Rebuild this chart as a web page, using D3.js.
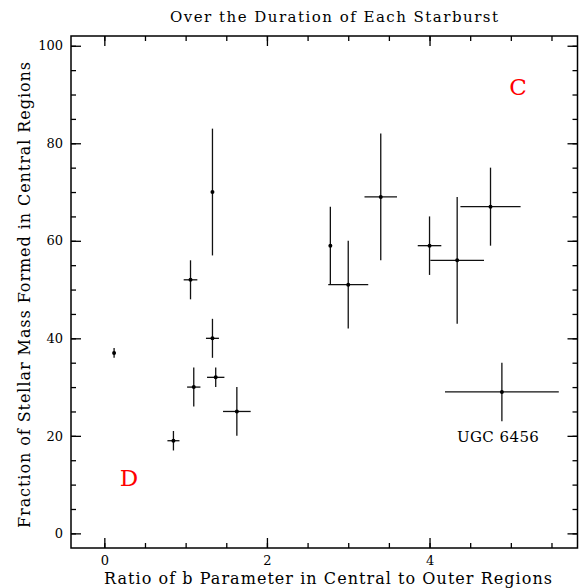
<!DOCTYPE html>
<html>
<head>
<meta charset="utf-8">
<script src="https://cdn.jsdelivr.net/npm/d3@7"></script>
<style>
  body { margin: 0; background: #fff; }
  svg { display: block; }
  text { font-family: "DejaVu Serif", serif; fill: #000; }
</style>
</head>
<body>
<div id="chart"></div>
<script>
// data
const xVals = [0.12, 0.85, 1.06, 1.10, 1.33, 1.37, 1.33, 1.63, 2.78, 3.00, 3.40, 4.00, 4.34, 4.75, 4.89];
const yVals = [37, 19, 52, 30, 40, 32, 70, 25, 59, 51, 69, 59, 56, 67, 29];
const xErr  = [0, 0.074, 0.084, 0.082, 0.08, 0.107, 0, 0.17, 0, 0.246, 0.2, 0.145, 0.33, 0.37, 0.70];
const yErr  = [1, 2, 4, 4, 4, 2, 13, 5, 8, 9, 13, 6, 13, 8, 6];

const xMajor = [0, 2, 4];
const yMajor = [0, 20, 40, 60, 80, 100];
const xMinor = d3.range(0, 6, 0.5);
const yMinor = d3.range(0, 101, 5);

const title = "Over the Duration of Each Starburst";
const xTitle = "Ratio of b Parameter in Central to Outer Regions";
const yTitle = "Fraction of Stellar Mass Formed in Central Regions";

const width = 585, height = 588;
const mLeft = 71, mRight = 577.5, mTop = 36, mBottom = 548;

const svg = d3.select('#chart').append('svg')
  .attr('width', width)
  .attr('height', height);

const x = d3.scaleLinear().domain([-0.41, 5.82]).range([mLeft, mRight]);
const y = d3.scaleLinear().domain([-3, 102]).range([mBottom, mTop]);

// frame
svg.append('rect')
  .attr('x', mLeft).attr('y', mTop)
  .attr('width', mRight - mLeft).attr('height', mBottom - mTop)
  .attr('fill', 'none').attr('stroke', '#000').attr('stroke-width', 1.5);

// ticks on all four sides, pointing inward
function ticks(axis, values, size, labels) {
  return axis.tickValues(values).tickSizeInner(-size).tickSizeOuter(0)
    .tickFormat(labels ? d3.format('d') : '').tickPadding(8);
}
const axes = [
  [d3.axisBottom(x), xMinor, 5, false, `translate(0,${mBottom})`],
  [d3.axisBottom(x), xMajor, 10, true, `translate(0,${mBottom})`],
  [d3.axisTop(x), xMinor, 5, false, `translate(0,${mTop})`],
  [d3.axisTop(x), xMajor, 10, false, `translate(0,${mTop})`],
  [d3.axisLeft(y), yMinor, 5, false, `translate(${mLeft},0)`],
  [d3.axisLeft(y), yMajor, 10, true, `translate(${mLeft},0)`],
  [d3.axisRight(y), yMinor, 5, false, `translate(${mRight},0)`],
  [d3.axisRight(y), yMajor, 10, false, `translate(${mRight},0)`]
];
axes.forEach(([ax, vals, size, lab, tr]) => {
  const g = svg.append('g').attr('transform', tr).call(ticks(ax, vals, size, lab));
  g.select('.domain').remove();
  g.selectAll('line').attr('stroke', '#000').attr('stroke-width', 1.3);
  g.selectAll('text').style('font-family', '"DejaVu Serif", serif').style('font-size', '13px').attr('fill', '#000');
});

// error bars
const pts = xVals.map((v, i) => ({x: v, y: yVals[i], ex: xErr[i], ey: yErr[i]}));
const bars = svg.append('g').attr('stroke', '#111').attr('stroke-width', 1.3);
bars.selectAll('.ey').data(pts).enter().append('line')
  .attr('x1', d => x(d.x)).attr('x2', d => x(d.x))
  .attr('y1', d => y(d.y - d.ey)).attr('y2', d => y(d.y + d.ey));
bars.selectAll('.ex').data(pts.filter(d => d.ex > 0)).enter().append('line')
  .attr('x1', d => x(d.x - d.ex)).attr('x2', d => x(d.x + d.ex))
  .attr('y1', d => y(d.y)).attr('y2', d => y(d.y));
svg.append('g').selectAll('circle').data(pts).enter().append('circle')
  .attr('cx', d => x(d.x)).attr('cy', d => y(d.y)).attr('r', 2).attr('fill', '#000');

// titles
svg.append('text').attr('x', 334).attr('y', 22).attr('text-anchor', 'middle')
  .attr('font-size', 15).attr('textLength', 328).attr('lengthAdjust', 'spacing').text(title);
svg.append('text').attr('x', 328).attr('y', 584).attr('text-anchor', 'middle')
  .attr('font-size', 16).attr('textLength', 448).attr('lengthAdjust', 'spacing').text(xTitle);
svg.append('text').attr('transform', 'translate(30,295) rotate(-90)').attr('text-anchor', 'middle')
  .attr('font-size', 16).attr('textLength', 466).attr('lengthAdjust', 'spacing').text(yTitle);

// annotations
svg.append('text').attr('x', x(4.89) - 4).attr('y', 442).attr('text-anchor', 'middle')
  .attr('font-size', 15).attr('textLength', 82).attr('lengthAdjust', 'spacing').text('UGC 6456');
svg.append('text').attr('x', 518).attr('y', 95).attr('text-anchor', 'middle')
  .attr('font-size', 23).style('fill', 'red').text('C');
svg.append('text').attr('x', 129).attr('y', 486).attr('text-anchor', 'middle')
  .attr('font-size', 23).style('fill', 'red').text('D');
</script>
</body>
</html>
